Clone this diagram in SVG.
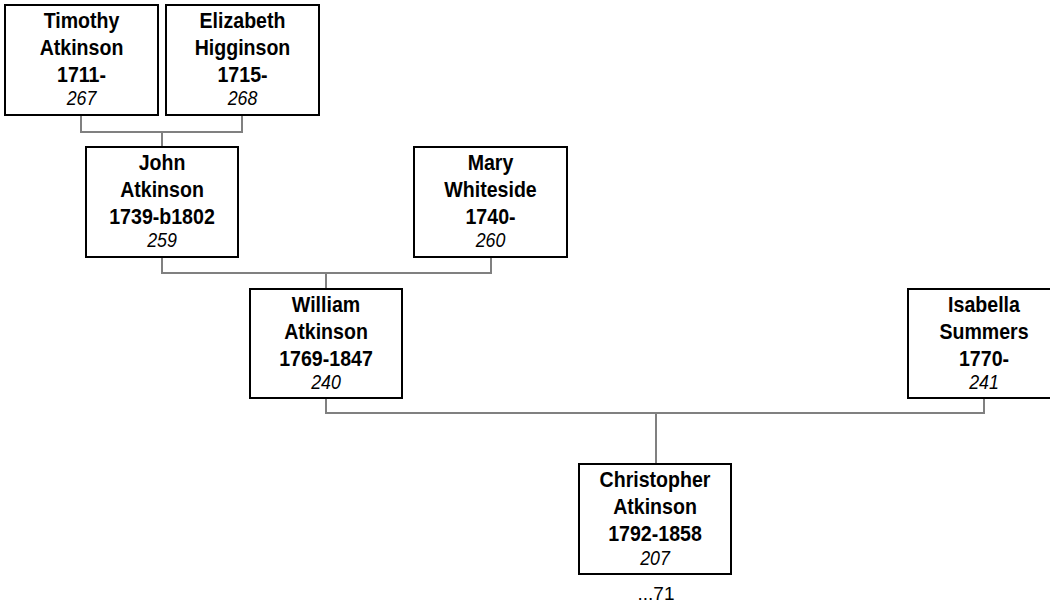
<svg xmlns="http://www.w3.org/2000/svg" width="1050" height="607" viewBox="0 0 1050 607">
<style>
.box{fill:#fff;stroke:#000;stroke-width:2}
.n{font-family:"Liberation Sans",Arial,sans-serif;font-weight:bold;font-size:22px;text-anchor:middle;fill:#000}
.id{font-family:"Liberation Sans",Arial,sans-serif;font-style:italic;font-size:20px;text-anchor:middle;fill:#000}
.c{fill:none;stroke:#808080;stroke-width:2}
.f{font-family:"Liberation Sans",Arial,sans-serif;font-size:19px;text-anchor:middle;fill:#000}
</style>
<rect width="1050" height="607" fill="#fff"/>
<g id="connectors">
<path class="c" d="M81,115 V132 H242 V115 M162,132 V147"/>
<path class="c" d="M162,257 V273 H491 V257 M326,273 V289"/>
<path class="c" d="M326,398 V413 H984 V398 M656,413 V464"/>
</g>
<g id="timothy">
<rect class="box" x="5" y="5" width="153" height="110"/>
<g transform="translate(81.5,5) scale(0.89,1)">
<text class="n" x="0" y="23.5">Timothy</text>
<text class="n" x="0" y="50.5">Atkinson</text>
<text class="n" x="0" y="77">1711-</text>
<text class="id" x="0" y="100">267</text>
</g>
</g>
<g id="elizabeth">
<rect class="box" x="166" y="5" width="153" height="110"/>
<g transform="translate(242.5,5) scale(0.89,1)">
<text class="n" x="0" y="23.5">Elizabeth</text>
<text class="n" x="0" y="50.5">Higginson</text>
<text class="n" x="0" y="77">1715-</text>
<text class="id" x="0" y="100">268</text>
</g>
</g>
<g id="john">
<rect class="box" x="86" y="147" width="152" height="110"/>
<g transform="translate(162,147) scale(0.89,1)">
<text class="n" x="0" y="23.5">John</text>
<text class="n" x="0" y="50.5">Atkinson</text>
<text class="n" x="0" y="77">1739-b1802</text>
<text class="id" x="0" y="100">259</text>
</g>
</g>
<g id="mary">
<rect class="box" x="414" y="147" width="153" height="110"/>
<g transform="translate(490.5,147) scale(0.89,1)">
<text class="n" x="0" y="23.5">Mary</text>
<text class="n" x="0" y="50.5">Whiteside</text>
<text class="n" x="0" y="77">1740-</text>
<text class="id" x="0" y="100">260</text>
</g>
</g>
<g id="william">
<rect class="box" x="250" y="289" width="152" height="109"/>
<g transform="translate(326,289) scale(0.89,1)">
<text class="n" x="0" y="23.5">William</text>
<text class="n" x="0" y="50.5">Atkinson</text>
<text class="n" x="0" y="77">1769-1847</text>
<text class="id" x="0" y="100">240</text>
</g>
</g>
<g id="isabella">
<rect class="box" x="908" y="289" width="152" height="109"/>
<g transform="translate(984,289) scale(0.89,1)">
<text class="n" x="0" y="23.5">Isabella</text>
<text class="n" x="0" y="50.5">Summers</text>
<text class="n" x="0" y="77">1770-</text>
<text class="id" x="0" y="100">241</text>
</g>
</g>
<g id="christopher">
<rect class="box" x="579" y="464" width="152" height="110"/>
<g transform="translate(655,464) scale(0.89,1)">
<text class="n" x="0" y="23.5">Christopher</text>
<text class="n" x="0" y="50.5">Atkinson</text>
<text class="n" x="0" y="77">1792-1858</text>
<text class="id" x="0" y="101">207</text>
</g>
</g>
<text class="f" x="656" y="600">...71</text>
</svg>
